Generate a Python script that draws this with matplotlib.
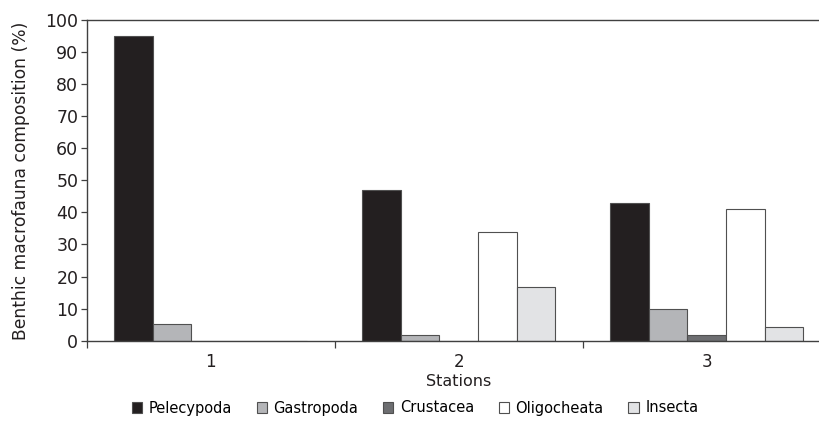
import numpy as np
import matplotlib
matplotlib.use('Agg')
import matplotlib.pyplot as plt
from matplotlib.patches import Patch

stations = ['1', '2', '3']
groups = ['Pelecypoda', 'Gastropoda', 'Crustacea', 'Oligocheata', 'Insecta']
pelecypoda = [95, 47, 43]
gastropoda = [5.2, 1.8, 9.8]
crustacea = [0, 0, 1.8]
oligocheata = [0, 34, 41]
insecta = [0, 16.7, 4.2]
yticks = [0, 10, 20, 30, 40, 50, 60, 70, 80, 90, 100]

colors = ['#231f20', '#b4b5b8', '#6d6e71', '#ffffff', '#e2e3e5']
series = [pelecypoda, gastropoda, crustacea, oligocheata, insecta]

plt.rcParams['font.family'] = ['DejaVu Sans']
fig = plt.figure(figsize=(8.2, 4.3), dpi=100)
# axes runs slightly past the right edge of the figure, like the original
ax = fig.add_axes([86.7/820, 89.3/430, 744/820, 320.7/430])

x = np.arange(len(stations))
w = 0.156
for i, (vals, c) in enumerate(zip(series, colors)):
    ax.bar(x - 2*w + i*w, vals, width=w, color=c, edgecolor='#505050',
           linewidth=0.8, label=groups[i], zorder=2)

ax.set_xlim(-0.5, 2.5)
ax.set_ylim(0, 100)
ax.set_yticks(yticks)
ax.set_xticks(x)
ax.set_xticklabels(stations)
ax.set_xticks([-0.5, 0.5, 1.5], minor=True)
ax.tick_params(axis='x', which='major', length=0, labelsize=12, pad=9, colors='#231f20')
ax.tick_params(axis='x', which='minor', length=5, width=0.9, color='#404040')
ax.tick_params(axis='y', length=4, width=0.9, color='#404040', labelsize=12.5, pad=2, labelcolor='#231f20')

for s in ['left', 'bottom', 'top']:
    ax.spines[s].set_color('#404040')
    ax.spines[s].set_linewidth(1.0)
ax.spines['right'].set_visible(False)

ax.set_ylabel('Benthic macrofauna composition (%)', fontsize=12.3, color='#231f20', labelpad=11)
ax.set_xlabel('Stations', fontsize=11.5, color='#231f20', labelpad=2)

handles = [Patch(facecolor=c, edgecolor='#505050', linewidth=0.8) for c in colors]
fig.legend(handles, groups, loc='center', bbox_to_anchor=(415/820, 1 - 408/430),
           ncol=5, frameon=False, fontsize=10.5, handlelength=0.7, handleheight=0.7,
           handletextpad=0.45, columnspacing=1.7)

fig.savefig('out.png', dpi=100)
